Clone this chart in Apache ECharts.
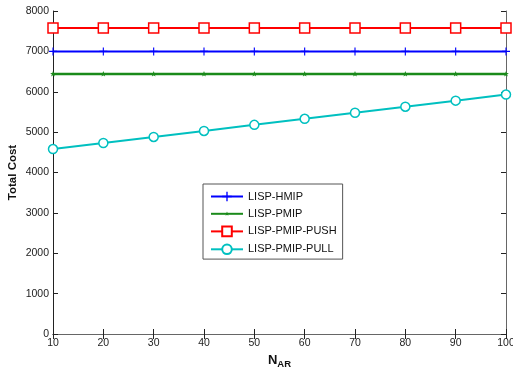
<!DOCTYPE html>
<html><head><meta charset="utf-8">
<script src="https://cdn.jsdelivr.net/npm/echarts@6/dist/echarts.min.js"></script>
<style>html,body{margin:0;padding:0;background:#fff}#c{width:513px;height:373px}</style>
</head><body><div id="c"></div>
<script>
const nAR = [10, 20, 30, 40, 50, 60, 70, 80, 90, 100];
const hmip = [7000, 7000, 7000, 7000, 7000, 7000, 7000, 7000, 7000, 7000];
const pmip = [6440, 6440, 6440, 6440, 6440, 6440, 6440, 6440, 6440, 6440];
const push = [7580, 7580, 7580, 7580, 7580, 7580, 7580, 7580, 7580, 7580];
const pull = [4580, 4730, 4880, 5030, 5180, 5330, 5480, 5630, 5780, 5930];
const names = ['LISP-HMIP', 'LISP-PMIP', 'LISP-PMIP-PUSH', 'LISP-PMIP-PULL'];

const pair = arr => nAR.map((x, i) => [x, arr[i]]);
const font = 'Liberation Sans';
const chart = echarts.init(document.getElementById('c'), null, {renderer: 'canvas'});
const axisCommon = {
  type: 'value',
  axisLine: {show: true, lineStyle: {color: '#222', width: 1}},
  axisTick: {show: true, inside: true, length: 5, lineStyle: {color: '#222'}},
  splitLine: {show: false}
};
const plusPath = 'path://M-0.7,-5L0.7,-5L0.7,-0.7L5,-0.7L5,0.7L0.7,0.7L0.7,5L-0.7,5L-0.7,0.7L-5,0.7L-5,-0.7L-0.7,-0.7Z';
const starPath = 'path://M-5,-5M5,5M0,-2.5L0.6,-0.8L2.4,-0.8L1,0.3L1.5,2L0,1L-1.5,2L-1,0.3L-2.4,-0.8L-0.6,-0.8Z';
chart.setOption({
  animation: false,
  backgroundColor: '#fff',
  grid: {left: 53, right: 7, top: 11, bottom: 39, containLabel: false, outerBoundsMode: 'none'},
  xAxis: [
    Object.assign({}, axisCommon, {
      min: 10, max: 100, interval: 10, position: 'bottom',
      axisLabel: {color: '#222', fontFamily: font, fontSize: 10.5, margin: 4},
      name: '{n|N}{s|AR}', nameLocation: 'middle', nameGap: 16,
      nameTextStyle: {rich: {
        n: {fontFamily: font, fontSize: 13, fontWeight: 'bold', color: '#111'},
        s: {fontFamily: font, fontSize: 9.5, fontWeight: 'bold', color: '#111', verticalAlign: 'bottom', padding: [8, 0, 0, 0]}
      }}
    }),
    Object.assign({}, axisCommon, {
      min: 10, max: 100, interval: 10, position: 'top',
      axisLine: {show: true, lineStyle: {color: '#666'}},
      axisLabel: {show: false}
    })
  ],
  yAxis: [
    Object.assign({}, axisCommon, {
      min: 0, max: 8000, interval: 1000, position: 'left',
      axisLabel: {color: '#222', fontFamily: font, fontSize: 10.5, margin: 4, formatter: v => String(v)},
      name: 'Total Cost', nameLocation: 'middle', nameGap: 34, nameMoveOverlap: false,
      nameTextStyle: {fontFamily: font, fontSize: 11.5, fontWeight: 'bold', color: '#111'}
    }),
    Object.assign({}, axisCommon, {
      min: 0, max: 8000, interval: 1000, position: 'right',
      axisLine: {show: true, lineStyle: {color: '#666'}},
      axisLabel: {show: false}
    })
  ],
  legend: {
    orient: 'vertical', left: 203, top: 184,
    backgroundColor: '#fff', borderColor: '#555', borderWidth: 1, borderRadius: 0,
    padding: [7, 6, 4, 7], itemGap: 6.3, itemWidth: 32, itemHeight: 12,
    textStyle: {fontFamily: font, fontSize: 11, color: '#111'},
    data: names
  },
  series: [
    {name: names[0], type: 'line', data: pair(hmip), color: '#0000ff',
     lineStyle: {width: 2, color: '#0000ff'}, symbol: plusPath, symbolSize: 8,
     itemStyle: {color: '#0000ff'}},
    {name: names[1], type: 'line', data: pair(pmip), color: '#1a8a1a',
     lineStyle: {width: 2.5, color: '#1a8a1a'}, symbol: starPath,
     symbolSize: 12, itemStyle: {color: '#1a8a1a'}},
    {name: names[2], type: 'line', data: pair(push), color: '#ff0000',
     lineStyle: {width: 2, color: '#ff0000'}, symbol: 'rect', symbolSize: 10,
     itemStyle: {color: '#fff', borderColor: '#ff0000', borderWidth: 1.5}},
    {name: names[3], type: 'line', data: pair(pull), color: '#00c0c0',
     lineStyle: {width: 2, color: '#00c0c0'}, symbol: 'circle', symbolSize: 9,
     itemStyle: {color: '#fff', borderColor: '#00c0c0', borderWidth: 1.5}}
  ]
});
</script></body></html>
